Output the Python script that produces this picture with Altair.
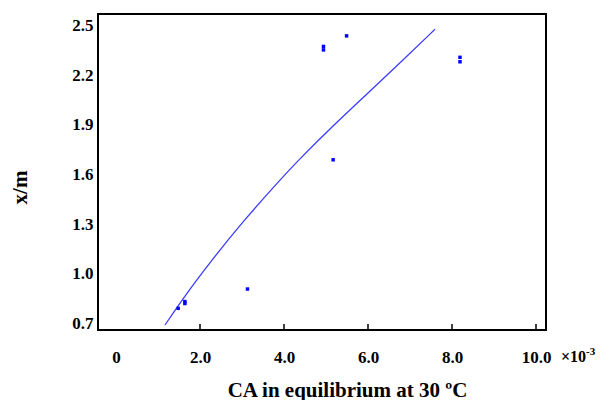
import altair as alt
import pandas as pd

# Observed data points (CA in equilibrium x10^-3, x/m)
pt_x = [1.48, 1.64, 1.64, 3.13, 4.94, 4.94, 5.49, 5.17, 8.19, 8.19]
pt_y = [0.789, 0.830, 0.818, 0.906, 2.376, 2.355, 2.440, 1.689, 2.310, 2.283]

# Fitted curve
fit_x = [1.167, 1.602, 2.238, 3.031, 3.826, 4.381, 5.174, 5.969, 6.762, 7.595]
fit_y = [0.688, 0.852, 1.068, 1.318, 1.545, 1.697, 1.897, 2.086, 2.276, 2.480]

x_ticks = [0, 2, 4, 6, 8, 10]
inner_ticks = [2, 4, 6, 8, 10]
y_ticks = [0.7, 1.0, 1.3, 1.6, 1.9, 2.2, 2.5]

W, H = 448, 316
FONT = "Liberation Serif"

pts = pd.DataFrame({"x": pt_x, "y": pt_y})
fit = pd.DataFrame({"x": fit_x, "y": fit_y})
tk = pd.DataFrame({"x": inner_ticks})

xs = alt.Scale(domain=[-0.4286, 10.238], nice=False, zero=False)
ys = alt.Scale(domain=[0.6577, 2.5725], nice=False, zero=False)

xaxis = alt.Axis(
    values=x_ticks,
    labelExpr="datum.value == 0 ? '0' : format(datum.value, '.1f')",
    ticks=False, tickSize=0, domain=False, grid=False,
    labelFont=FONT, labelFontSize=17, labelFontWeight="bold", labelColor="black",
    labelPadding=32, labelBaseline="alphabetic",
    title="CA in equilibrium at 30 ºC",
    titleFont=FONT, titleFontSize=21, titleFontWeight="bold", titleColor="black",
    titleX=249, titleY=66, titleBaseline="alphabetic", titleAlign="center",
)
yaxis = alt.Axis(
    values=y_ticks, format=".1f",
    ticks=False, tickSize=0, domain=False, grid=False,
    labelFont=FONT, labelFontSize=17, labelFontWeight="bold", labelColor="black",
    labelPadding=5, labelBaseline="middle",
    title="x/m",
    titleFont=FONT, titleFontSize=21, titleFontWeight="bold", titleColor="black",
    titleX=-78, titleY=173, titleBaseline="middle", titleAlign="center", titleAngle=270,
)

curve = alt.Chart(fit).mark_line(color="#3c3cff", strokeWidth=1.3, interpolate="basis").encode(
    x=alt.X("x:Q", scale=xs, axis=xaxis),
    y=alt.Y("y:Q", scale=ys, axis=yaxis),
)

points = alt.Chart(pts).mark_square(color="#0000ff", size=12, opacity=1).encode(
    x=alt.X("x:Q", scale=xs),
    y=alt.Y("y:Q", scale=ys),
)

ticks = alt.Chart(tk).mark_rule(color="black", strokeWidth=1.5).encode(
    x=alt.X("x:Q", scale=xs),
    y=alt.value(H - 6),
    y2=alt.value(H),
)

one = pd.DataFrame({"t": [""]})
mult = alt.Chart(one).mark_text(
    text="×10", font=FONT, fontSize=16, fontWeight="bold", color="black",
    align="left", baseline="alphabetic",
).encode(x=alt.value(463), y=alt.value(348))
sup = alt.Chart(one).mark_text(
    text="-3", font=FONT, fontSize=11, fontWeight="bold", color="black",
    align="left", baseline="alphabetic",
).encode(x=alt.value(488), y=alt.value(341))

chart = alt.layer(curve, points, ticks, mult, sup).properties(
    width=W, height=H,
    autosize=alt.AutoSizeParams(type="none"),
    padding={"left": 90, "top": 6, "right": 51, "bottom": 70},
).configure(
    background="white",
    view=alt.ViewConfig(stroke="black", strokeWidth=2),
)

chart.save("out.html", embed_options={"renderer": "svg", "actions": False})
